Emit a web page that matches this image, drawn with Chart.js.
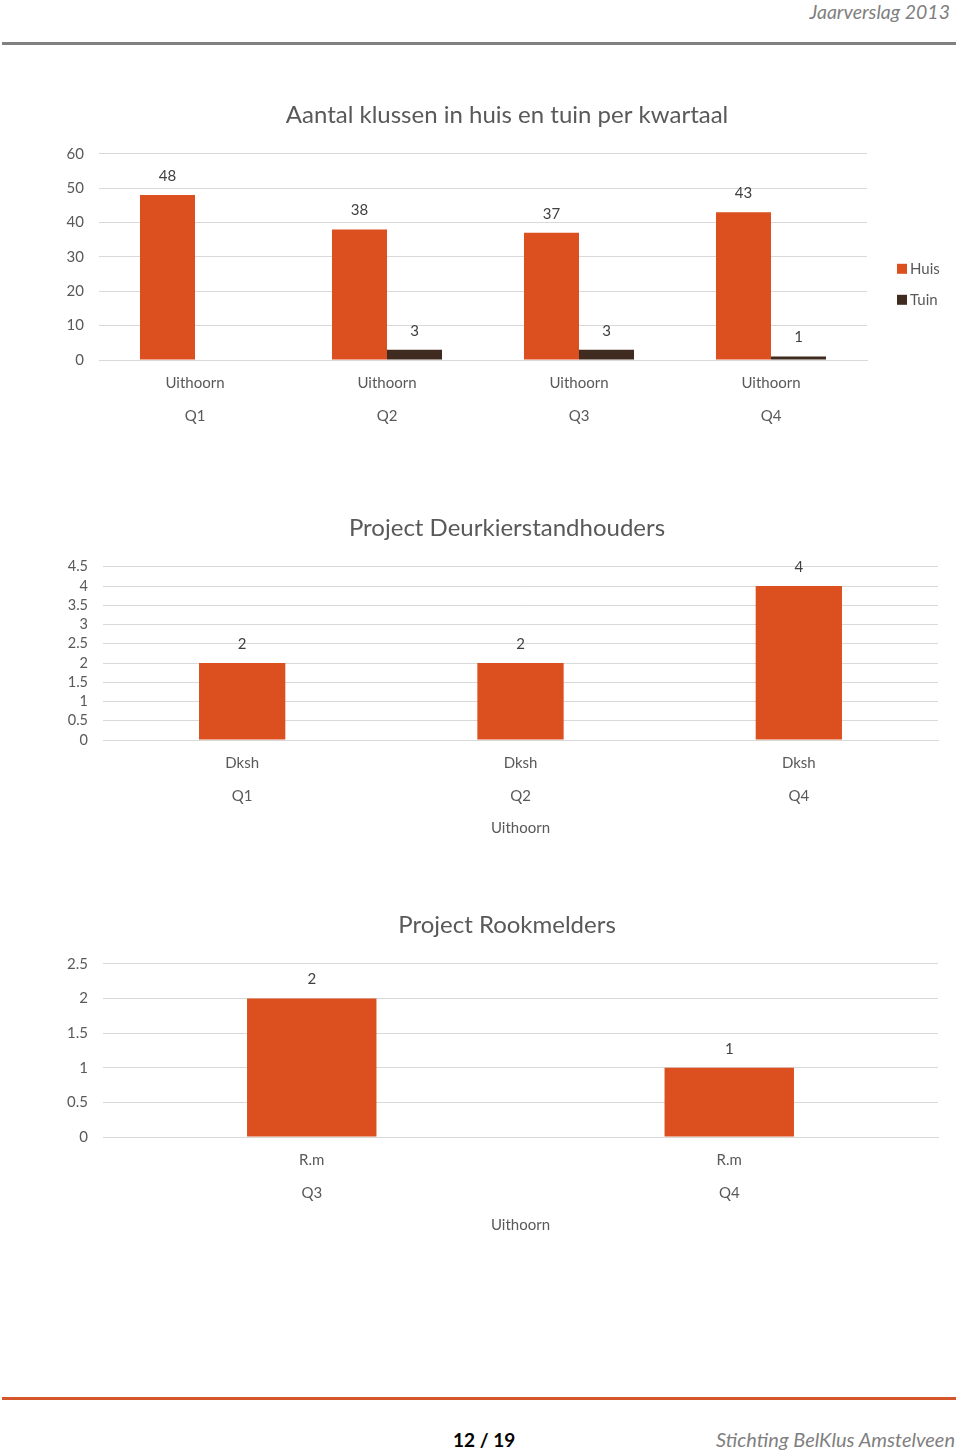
<!DOCTYPE html>
<html>
<head>
<meta charset="utf-8">
<script src="https://cdn.jsdelivr.net/npm/chart.js@4/dist/chart.umd.min.js"></script>
<style>
  body { margin: 0; background: #fff; font-family: Lato, sans-serif; }
  .page { position: relative; width: 960px; height: 1453px; overflow: hidden; }
  .hdr { position: absolute; right: 10px; top: 0; font-size: 19.5px; font-style: italic; color: #7f7f7f; }
  .rule-top { position: absolute; left: 2px; width: 954px; top: 42px; height: 3px; background: #808080; }
  .rule-bot { position: absolute; left: 2px; width: 954px; top: 1397px; height: 3px; background: #d4572b; }
  .pg { position: absolute; left: 453px; top: 1428px; font-size: 19px; font-weight: bold; color: #000; }
  .org { position: absolute; right: 5px; top: 1427px; font-size: 20px; font-style: italic; color: #7f7f7f; }
  .box { position: absolute; left: 54px; width: 906px; }
</style>
</head>
<body>
<div class="page">
  <div class="hdr">Jaarverslag 2013</div>
  <div class="rule-top"></div>

  <div class="box" style="top:101px;height:339px"><canvas id="c1"></canvas></div>
  <div class="box" style="top:514px;height:323px"><canvas id="c2"></canvas></div>
  <div class="box" style="top:911px;height:323px"><canvas id="c3"></canvas></div>

  <div class="rule-bot"></div>
  <div class="pg">12 / 19</div>
  <div class="org">Stichting BelKlus Amstelveen</div>
</div>
<script>
// gegevens
const quarters1 = ['Q1', 'Q2', 'Q3', 'Q4'];
const place1 = 'Uithoorn';
const huis = [48, 38, 37, 43];
const tuin = [null, 3, 3, 1];

const quarters2 = ['Q1', 'Q2', 'Q4'];
const sub2 = 'Dksh';
const deurkier = [2, 2, 4];

const quarters3 = ['Q3', 'Q4'];
const sub3 = 'R.m';
const rookmelders = [2, 1];

const groupLabel = 'Uithoorn';

const ORANGE = '#dc4f1e';
const BROWN = '#3f2b1f';
const TEXT = '#595959';
const GRID = '#d9d9d9';
const FONT = 'Lato, sans-serif';

// waarden boven de staven
const valueLabels = {
    id: 'valueLabels',
    afterDatasetsDraw(chart) {
        const ctx = chart.ctx;
        ctx.save();
        ctx.font = '15px ' + FONT;
        ctx.fillStyle = '#404040';
        ctx.textAlign = 'center';
        ctx.textBaseline = 'middle';
        chart.data.datasets.forEach((ds, i) => {
            chart.getDatasetMeta(i).data.forEach((bar, j) => {
                const v = ds.data[j];
                if (v === null || v === undefined) return;
                ctx.fillText(String(v), bar.x, bar.y - 19);
            });
        });
        ctx.restore();
    }
};

// legenda rechts naast het plotgebied (alleen als showLegend aan staat)
const sideLegend = {
    id: 'sideLegend',
    afterDraw(chart, args, opts) {
        if (!opts.show) return;
        const ctx = chart.ctx;
        const area = chart.chartArea;
        ctx.save();
        ctx.font = '15px ' + FONT;
        ctx.textBaseline = 'middle';
        ctx.textAlign = 'left';
        chart.data.datasets.forEach((ds, i) => {
            const y = area.top + 115 + i * 31;
            const x = area.right + 30;
            ctx.fillStyle = ds.backgroundColor;
            ctx.fillRect(x, y - 5, 10, 10);
            ctx.fillStyle = TEXT;
            ctx.fillText(ds.label, x + 13, y);
        });
        ctx.restore();
    }
};

function makeChart(id, opts) {
    return new Chart(document.getElementById(id), {
        type: 'bar',
        plugins: [valueLabels, sideLegend],
        data: { labels: opts.labels, datasets: opts.datasets },
        options: {
            responsive: true,
            maintainAspectRatio: false,
            animation: false,
            layout: { padding: 0 },
            plugins: {
                title: {
                    display: true,
                    text: opts.title,
                    color: TEXT,
                    font: { family: FONT, size: 24, weight: 'normal', lineHeight: 1.2 },
                    padding: { top: 0, bottom: 24 }
                },
                legend: { display: false },
                sideLegend: { show: !!opts.legend },
                tooltip: { enabled: false }
            },
            scales: {
                x: {
                    grid: { display: false, drawTicks: false },
                    border: { display: true, color: GRID },
                    ticks: {
                        color: TEXT,
                        font: { family: FONT, size: 15, lineHeight: 2.2 },
                        padding: 7,
                        maxRotation: 0,
                        autoSkip: false
                    },
                    title: opts.xTitle ? {
                        display: true,
                        text: opts.xTitle,
                        color: TEXT,
                        font: { family: FONT, size: 15 },
                        padding: { top: 4, bottom: 0 }
                    } : { display: false },
                    afterFit: (s) => { s.height = opts.xHeight; }
                },
                y: {
                    min: 0,
                    max: opts.max,
                    grid: { color: GRID, drawTicks: false },
                    border: { display: false },
                    ticks: {
                        stepSize: opts.step,
                        autoSkip: false,
                        color: TEXT,
                        font: { family: FONT, size: opts.tickSize || 15 },
                        padding: 15,
                        callback: (v) => String(+Number(v).toFixed(2))
                    },
                    afterFit: (s) => { s.width = opts.yWidth; }
                },
                // lege ruimte rechts (voor legenda / marge)
                right: {
                    position: 'right',
                    display: true,
                    grid: { display: false, drawTicks: false },
                    border: { display: false },
                    ticks: { display: false },
                    afterFit: (s) => { s.width = opts.rightSpace; }
                }
            }
        }
    });
}

makeChart('c1', {
    title: 'Aantal klussen in huis en tuin per kwartaal',
    labels: quarters1.map(q => [place1, q]),
    datasets: [
        { label: 'Huis', data: huis, backgroundColor: ORANGE, barPercentage: 1, categoryPercentage: 0.573 },
        { label: 'Tuin', data: tuin, backgroundColor: BROWN, barPercentage: 1, categoryPercentage: 0.573 }
    ],
    max: 60, step: 10,
    yWidth: 45, xHeight: 80, rightSpace: 93,
    legend: true
});

makeChart('c2', {
    title: 'Project Deurkierstandhouders',
    labels: quarters2.map(q => [sub2, q]),
    datasets: [{ label: 'Deurkier', data: deurkier, backgroundColor: ORANGE, barPercentage: 1, categoryPercentage: 0.31 }],
    max: 4.5, step: 0.5, tickSize: 14.5,
    yWidth: 49, xHeight: 97, rightSpace: 22,
    xTitle: groupLabel
});

makeChart('c3', {
    title: 'Project Rookmelders',
    labels: quarters3.map(q => [sub3, q]),
    datasets: [{ label: 'Rookmelders', data: rookmelders, backgroundColor: ORANGE, barPercentage: 1, categoryPercentage: 0.31 }],
    max: 2.5, step: 0.5,
    yWidth: 49, xHeight: 97, rightSpace: 22,
    xTitle: groupLabel
});
</script>
</body>
</html>
